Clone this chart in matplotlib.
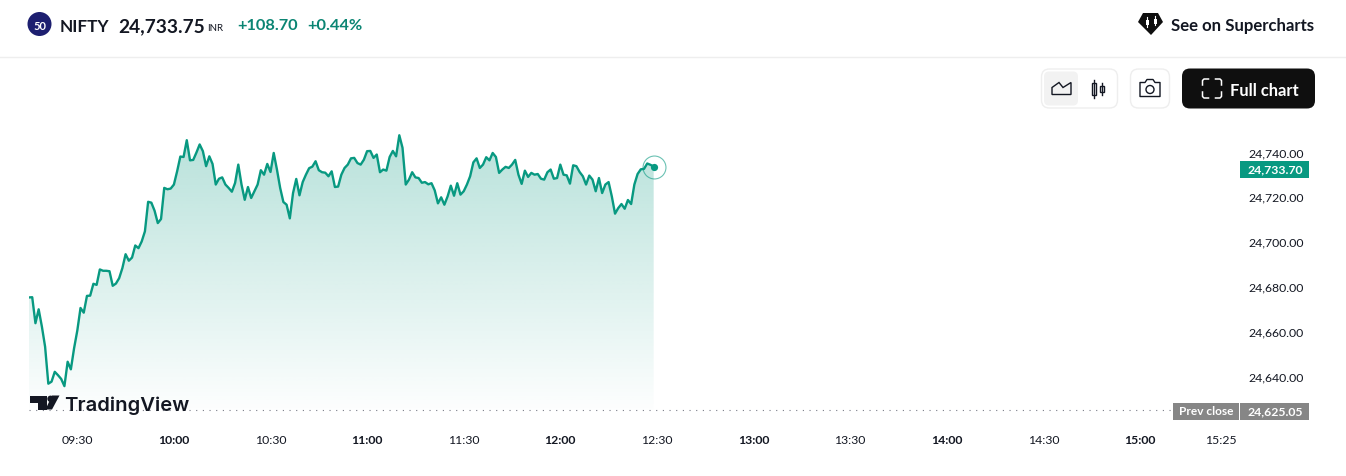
import numpy as np
import matplotlib
matplotlib.use('Agg')
import matplotlib.pyplot as plt
from matplotlib.patches import FancyBboxPatch, Polygon, Circle, Rectangle
from matplotlib.transforms import ScaledTranslation

plt.rcParams['font.family'] = ['Lato', 'DejaVu Sans']

# NIFTY one minute closes from 09:15, one per minute
prices = [
    24675.3, 24675.4, 24663.8, 24670.0, 24662.3, 24653.3, 24636.8, 24637.7, 24642.1, 24640.6,
    24638.9, 24635.7, 24646.6, 24643.2, 24652.6, 24660.5, 24670.6, 24668.5, 24676.0, 24676.1,
    24681.4, 24680.9, 24687.8, 24687.2, 24687.2, 24687.0, 24680.5, 24681.5, 24683.9, 24688.4,
    24694.6, 24691.7, 24693.1, 24698.5, 24697.3, 24700.3, 24704.8, 24718.0, 24717.6, 24714.0,
    24708.5, 24710.3, 24724.2, 24723.6, 24723.9, 24725.7, 24731.6, 24738.2, 24738.0, 24745.5,
    24736.5, 24736.7, 24740.0, 24743.6, 24740.6, 24733.9, 24738.3, 24734.9, 24725.7, 24728.3,
    24728.9, 24725.7, 24724.2, 24722.5, 24726.4, 24734.6, 24725.7, 24718.9, 24724.6, 24719.7,
    24722.7, 24725.7, 24732.1, 24730.1, 24734.9, 24731.3, 24739.8, 24732.4, 24724.2, 24717.9,
    24716.7, 24710.6, 24721.9, 24728.2, 24720.9, 24726.8, 24730.1, 24733.0, 24733.7, 24736.1,
    24732.1, 24731.2, 24731.0, 24729.4, 24731.6, 24724.6, 24724.8, 24730.1, 24733.1, 24734.6,
    24737.4, 24737.6, 24735.3, 24734.6, 24736.8, 24740.6, 24740.7, 24737.6, 24739.1, 24731.2,
    24732.4, 24731.9, 24738.0, 24740.7, 24738.3, 24747.7, 24742.1, 24725.7, 24727.9, 24731.2,
    24728.9, 24728.6, 24726.5, 24726.8, 24725.8, 24726.3, 24723.1, 24717.3, 24720.0, 24716.7,
    24720.4, 24725.2, 24720.7, 24726.3, 24721.2, 24722.7, 24725.7, 24729.4, 24735.6, 24737.4,
    24733.1, 24734.6, 24737.9, 24736.5, 24739.8, 24738.0, 24730.9, 24732.4, 24733.6, 24733.1,
    24734.6, 24736.7, 24730.1, 24726.0, 24731.9, 24729.1, 24730.9, 24730.1, 24730.4, 24728.3,
    24727.9, 24731.2, 24732.4, 24728.3, 24728.6, 24734.6, 24730.1, 24729.8, 24726.1, 24734.3,
    24733.9, 24731.3, 24729.4, 24725.7, 24729.7, 24727.9, 24722.7, 24728.6, 24721.9, 24725.7,
    24726.8, 24720.4, 24712.7, 24715.2, 24717.0, 24714.9, 24718.8, 24717.0, 24725.7, 24730.4,
    24732.5, 24732.7, 24735.1, 24734.5, 24733.7,
]
prev_close = 24625.05
last_price = 24733.70

time_ticks = [15, 45, 75, 105, 135, 165, 195, 225, 255, 285, 315, 345, 370]
time_labels = ['09:30', '10:00', '10:30', '11:00', '11:30', '12:00', '12:30',
               '13:00', '13:30', '14:00', '14:30', '15:00', '15:25']
hour_labels = ['10:00', '11:00', '12:00', '13:00', '14:00', '15:00']
price_ticks = [24640, 24660, 24680, 24700, 24720, 24740]

W, H = 1346, 477
green = '#089981'
dark = '#131722'
fig = plt.figure(figsize=(W / 100, H / 100), dpi=100, facecolor='white')

# chart area, 29..1240 px across and 120..411 px down
ax = fig.add_axes([29 / W, (H - 411) / H, (1240 - 29) / W, (411 - 120) / H])
ax.set_xlim(0, (1240 - 29) / 3.22)
ax.set_ylim(prev_close, prev_close + 291 / 2.24)
for s in ax.spines.values():
    s.set_visible(False)

minutes = np.arange(len(prices))
poly = ax.fill_between(minutes, prices, prev_close, color='none', lw=0)

# green fade, strong at the top and gone at the prev close line
grad = np.zeros((256, 1, 4))
grad[..., 0] = 8 / 255
grad[..., 1] = 153 / 255
grad[..., 2] = 129 / 255
grad[..., 3] = np.linspace(0.29, 0.01, 256)[:, None]
img = ax.imshow(grad, extent=[0, len(prices), prev_close, max(prices)], origin='upper',
                aspect='auto', zorder=1, interpolation='bilinear')
img.set_clip_path(poly.get_paths()[0], ax.transData)
ax.set_xlim(0, (1240 - 29) / 3.22)
ax.set_ylim(prev_close, prev_close + 291 / 2.24)

ax.plot(minutes, prices, color=green, lw=1.7, zorder=3, solid_joinstyle='round')
ax.axhline(prev_close, xmin=0, xmax=(1173 - 29) / (1240 - 29), color='#787b86', lw=0.8,
           ls=(0, (1, 5)), zorder=2, clip_on=False)
ax.plot(minutes[-1], prices[-1], 'o', color=green, ms=5.2, zorder=4, mew=0)
ax.plot(minutes[-1], prices[-1], 'o', mfc='none', mec=green, mew=0.8, ms=16.5, alpha=0.6, zorder=4)

ax.set_xticks(time_ticks)
ax.set_xticklabels(time_labels)
for t in ax.get_xticklabels():
    t.set_fontsize(8.8)
    t.set_color(dark)
    if t.get_text() in hour_labels:
        t.set_fontweight('bold')
ax.yaxis.tick_right()
ax.set_yticks(price_ticks)
ax.set_yticklabels(['{:,.2f}'.format(p) for p in price_ticks], ha='center', va='center_baseline',
                   fontsize=8.8, color=dark)
ax.tick_params(axis='x', length=0, pad=17)
ax.tick_params(axis='y', length=0, pad=26)
# labels sit about a pixel above their gridline position in the original
for t in ax.get_yticklabels():
    t.set_transform(t.get_transform() + ScaledTranslation(0, 1 / 100, fig.dpi_scale_trans))

# page furniture in pixel coordinates
ui = fig.add_axes([0, 0, 1, 1], facecolor='none')
ui.set_xlim(0, W)
ui.set_ylim(H, 0)
ui.axis('off')


def box(x0, y0, x1, y1, r, fc, ec='none', lw=1):
    ui.add_patch(FancyBboxPatch((x0 + r, y0 + r), x1 - x0 - 2 * r, y1 - y0 - 2 * r,
                                boxstyle='round,pad=%f,rounding_size=%f' % (r, r),
                                fc=fc, ec=ec, lw=lw))


ui.plot([0, W], [57.5, 57.5], color='#eeeeee', lw=1)

# header
ui.add_patch(Circle((39.5, 25), 12, fc='#1d1f70', ec='none'))
ui.text(39.5, 25.5, '50', color='white', fontsize=8, fontweight='bold', ha='center', va='center_baseline')
ui.text(60, 25, 'NIFTY', color=dark, fontsize=12.4, fontweight='bold', va='center_baseline')
ui.text(118, 25, '24,733.75', color=dark, fontsize=13.8, fontweight='bold', va='center_baseline')
ui.text(207, 27.5, 'INR', color=dark, fontsize=7, va='center_baseline')
ui.text(237, 25, '+108.70', color='#0b8573', fontsize=11.8, fontweight='bold', va='center_baseline')
ui.text(307, 25, '+0.44%', color='#0b8573', fontsize=11.8, fontweight='bold', va='center_baseline')

# supercharts link
ui.add_patch(Polygon([(1143, 14), (1158, 14), (1163, 23), (1151, 36), (1138, 23)], fc='#0f0f0f', ec='none'))
for cx, top, bot in [(1147, 18, 28), (1155, 17, 26)]:
    ui.plot([cx, cx], [top, bot], color='white', lw=0.8)
    ui.add_patch(Rectangle((cx - 1.5, top + 3), 3, 5, fc='white', ec='none'))
ui.text(1171, 25, 'See on Supercharts', color=dark, fontsize=12.1, fontweight='bold', va='center_baseline')

# chart type buttons
box(1041.5, 70, 1117.5, 109, 8, 'white', '#eeeeee')
box(1044, 72.5, 1078, 106.5, 5, '#f2f2f2')
ui.add_patch(Polygon([(1052, 95.5), (1052, 88.5), (1059, 83.5), (1063, 88.5), (1071, 83.5), (1071, 95.5)],
                     fc='none', ec='#131722', lw=1))
for cx, top, bot, y0, y1 in [(1094, 80.5, 98.5, 83.5, 95.5), (1102, 83.5, 95.5, 86.5, 92.5)]:
    ui.plot([cx, cx], [top, bot], color=dark, lw=1)
    ui.add_patch(Rectangle((cx - 1.8, y0), 3.6, y1 - y0, fc='white', ec=dark, lw=1))

# camera
box(1130.5, 70, 1169.5, 109, 8, 'white', '#eeeeee')
ui.add_patch(Polygon([(1140, 83.5), (1145, 83.5), (1147, 80.5), (1153, 80.5), (1155, 83.5), (1160, 83.5),
                      (1160, 97.5), (1140, 97.5)], fc='none', ec=dark, lw=1, joinstyle='round'))
ui.add_patch(Circle((1150, 90.5), 4, fc='none', ec=dark, lw=1))

# full chart
box(1182, 69.5, 1315, 109.5, 8, '#0f0f0f')
for sx, sy in [(-1, -1), (1, -1), (-1, 1), (1, 1)]:
    cx, cy = 1212 + sx * 9.5, 89.5 + sy * 9.5
    ui.plot([cx - sx * 6, cx - sx * 1.5, cx, cx], [cy, cy, cy - sy * 1.5, cy - sy * 6],
            color='white', lw=1.1)
ui.text(1230, 89, 'Full chart', color='white', fontsize=11.9, fontweight='bold', va='center_baseline')

# price labels
ui.add_patch(Rectangle((1240, 161.5), 69, 17, fc=green, ec='none'))
ui.text(1275.5, 169, '{:,.2f}'.format(last_price), color='white', fontsize=8.8,
        fontweight='bold', ha='center', va='center_baseline')
ui.add_patch(Rectangle((1173, 403.5), 66, 17, fc='#868686', ec='none'))
ui.add_patch(Rectangle((1240, 403.5), 69, 17, fc='#868686', ec='none'))
ui.text(1206, 411, 'Prev close', color='white', fontsize=8.6, fontweight='bold', ha='center', va='center_baseline')
ui.text(1275.5, 411, '{:,.2f}'.format(prev_close), color='white', fontsize=8.8,
        fontweight='bold', ha='center', va='center_baseline')

# watermark
ui.add_patch(Polygon([(30, 396.5), (47, 396.5), (47, 410.5), (38, 410.5), (38, 403.5), (30, 403.5)], fc='#131722', ec='none'))
ui.add_patch(Circle((50.5, 399.8), 3.2, fc='#131722', ec='none'))
ui.add_patch(Polygon([(52, 410.5), (45.5, 410.5), (52, 396.5), (59.5, 396.5)], fc='#131722', ec='none'))
ui.text(64, 404, 'TradingView', color='#131722', fontsize=14.6, fontweight='semibold',
        family='Inter', va='center_baseline')

fig.savefig('out.png', dpi=100)
